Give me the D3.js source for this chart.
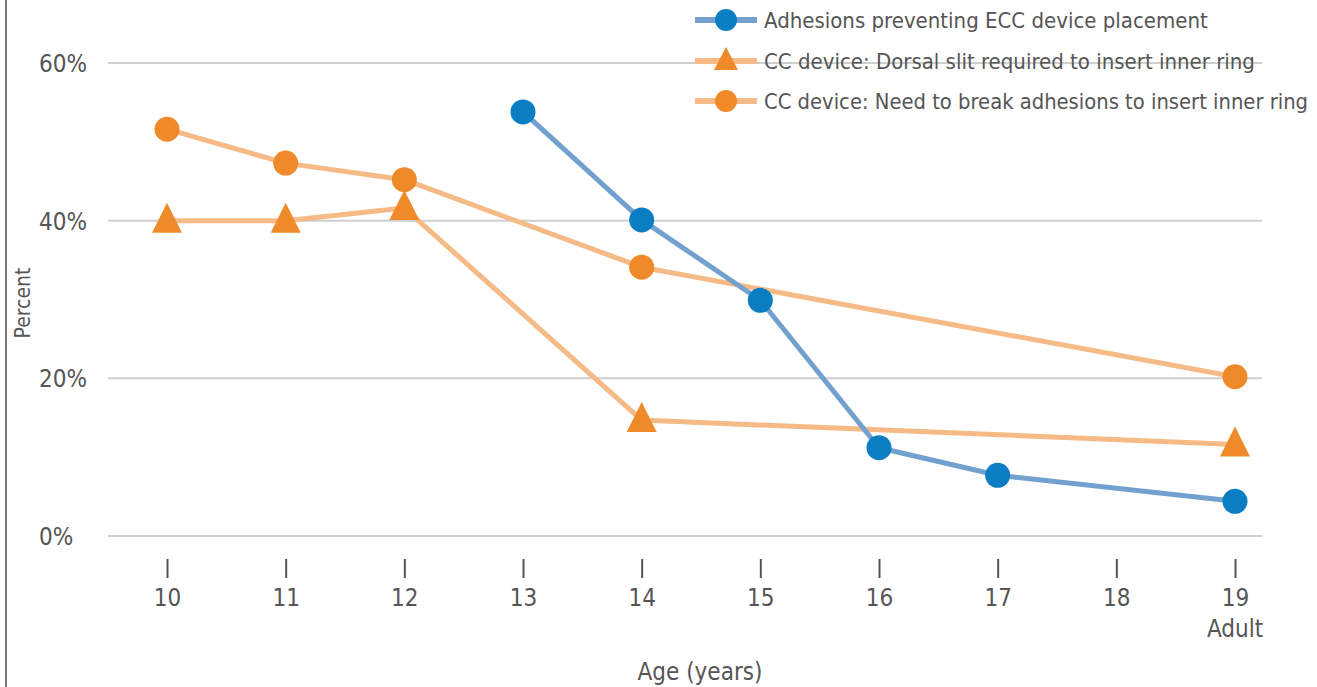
<!DOCTYPE html>
<html>
<head>
<meta charset="utf-8">
<script src="https://cdn.jsdelivr.net/npm/d3@7"></script>
<style>
  body { margin: 0; background: #fff; }
  text { font-family: "DejaVu Sans Condensed", "DejaVu Sans", sans-serif; font-stretch: condensed; fill: #555; }
</style>
</head>
<body>
<div id="chart"></div>
<script>
(function () {

  var w = 1317;
  var h = 687;

  // data (percent)
  var ages = [10, 11, 12, 13, 14, 15, 16, 17, 18, 19];
  var adhesionsAges = [13, 14, 15, 16, 17, 19];
  var adhesionsValues = [53.8, 40.1, 29.9, 11.2, 7.7, 4.4];
  var slitAges = [10, 11, 12, 14, 19];
  var slitValues = [40, 40, 41.6, 14.7, 11.6];
  var breakAges = [10, 11, 12, 14, 19];
  var breakValues = [51.6, 47.3, 45.2, 34.1, 20.2];
  var yTicks = [0, 20, 40, 60];
  var seriesNames = [
    "Adhesions preventing ECC device placement",
    "CC device: Dorsal slit required to insert inner ring",
    "CC device: Need to break adhesions to insert inner ring"
  ];

  var blueLine = "#72a0cf", blueDot = "#0b7dc2";
  var orangeLine = "#f6ba86", orangeDot = "#ef8a2b";

  var x = d3.scaleLinear().domain([10, 19]).range([167, 1235]);
  var y = d3.scaleLinear().domain([0, 60]).range([536, 63]);

  var svg = d3.select("#chart")
    .append("svg")
    .attr("width", w)
    .attr("height", h);

  // left frame line
  svg.append("line")
    .attr("x1", 6).attr("x2", 6)
    .attr("y1", 0).attr("y2", h)
    .attr("stroke", "#777")
    .attr("stroke-width", 2);

  // gridlines
  svg.selectAll(".grid")
    .data(yTicks)
    .enter().append("line")
    .attr("x1", 108).attr("x2", 1262)
    .attr("y1", function (d) { return y(d); })
    .attr("y2", function (d) { return y(d); })
    .attr("stroke", "#cfcfcf")
    .attr("stroke-width", 2);

  svg.selectAll(".ylab")
    .data(yTicks)
    .enter().append("text")
    .attr("x", 39)
    .attr("y", function (d) { return y(d) + 9; })
    .attr("font-size", 24)
    .text(function (d) { return d + "%"; });

  // x axis via d3.axisBottom, restyled
  var xAxis = d3.axisBottom(x)
    .tickValues(ages)
    .tickSize(0)
    .tickFormat(function (d) { return d; });

  var gx = svg.append("g")
    .attr("transform", "translate(0,559)")
    .call(xAxis);
  gx.select(".domain").remove();
  gx.attr("font-family", null).attr("font-size", null);
  gx.selectAll(".tick").append("line")
    .attr("y1", 0).attr("y2", 19)
    .attr("stroke", "#555")
    .attr("stroke-width", 2);
  gx.selectAll(".tick text")
    .attr("y", 30)
    .attr("dy", "0.71em")
    .attr("font-size", 24)
    .style("fill", "#555");

  svg.append("text")
    .attr("x", x(19))
    .attr("y", 637)
    .attr("text-anchor", "middle")
    .attr("font-size", 24)
    .text("Adult");

  svg.append("text")
    .attr("x", 700)
    .attr("y", 680)
    .attr("text-anchor", "middle")
    .attr("font-size", 24)
    .text("Age (years)");

  svg.append("text")
    .attr("transform", "translate(30,303) rotate(-90)")
    .attr("text-anchor", "middle")
    .attr("font-size", 21)
    .text("Percent");

  var line = d3.line()
    .x(function (d) { return x(d[0]); })
    .y(function (d) { return y(d[1]); });

  function zip(a, b) { return a.map(function (v, i) { return [v, b[i]]; }); }

  var triPath = "M0,-18L15,12L-15,12Z";

  var slit = zip(slitAges, slitValues);
  var brk = zip(breakAges, breakValues);
  var adh = zip(adhesionsAges, adhesionsValues);

  [slit, brk, adh].forEach(function (data, i) {
    svg.append("path")
      .datum(data)
      .attr("d", line)
      .attr("fill", "none")
      .attr("stroke", i === 2 ? blueLine : orangeLine)
      .attr("stroke-width", 5)
      .attr("stroke-linejoin", "round");
  });

  svg.selectAll(".tri")
    .data(slit)
    .enter().append("path")
    .attr("d", triPath)
    .attr("transform", function (d) { return "translate(" + x(d[0]) + "," + y(d[1]) + ")"; })
    .attr("fill", orangeDot);

  svg.selectAll(".brk")
    .data(brk)
    .enter().append("circle")
    .attr("cx", function (d) { return x(d[0]); })
    .attr("cy", function (d) { return y(d[1]); })
    .attr("r", 12.5)
    .attr("fill", orangeDot);

  svg.selectAll(".adh")
    .data(adh)
    .enter().append("circle")
    .attr("cx", function (d) { return x(d[0]); })
    .attr("cy", function (d) { return y(d[1]); })
    .attr("r", 12.5)
    .attr("fill", blueDot);

  // legend
  var legendY = [20, 61, 101];
  var legend = svg.selectAll(".legend")
    .data(seriesNames)
    .enter().append("g")
    .attr("transform", function (d, i) { return "translate(0," + legendY[i] + ")"; });

  legend.append("line")
    .attr("x1", 695).attr("x2", 757)
    .attr("y1", 0).attr("y2", 0)
    .attr("stroke", function (d, i) { return i === 0 ? blueLine : orangeLine; })
    .attr("stroke-width", 6);

  legend.each(function (d, i) {
    var g = d3.select(this);
    if (i === 1) {
      g.append("path")
        .attr("d", "M0,-14L12,9L-12,9Z")
        .attr("transform", "translate(726,0)")
        .attr("fill", orangeDot);
    } else {
      g.append("circle")
        .attr("cx", 726).attr("cy", 0).attr("r", 11)
        .attr("fill", i === 0 ? blueDot : orangeDot);
    }
  });

  legend.append("text")
    .attr("x", 764)
    .attr("y", 8)
    .attr("font-size", 22)
    .text(function (d) { return d; })
    .each(function () {
      // squeeze to fit the space up to the right edge if needed
      var len = this.getComputedTextLength();
      if (764 + len > 1308) {
        d3.select(this).attr("textLength", 1308 - 764).attr("lengthAdjust", "spacingAndGlyphs");
      }
    });

})();
</script>
</body>
</html>
